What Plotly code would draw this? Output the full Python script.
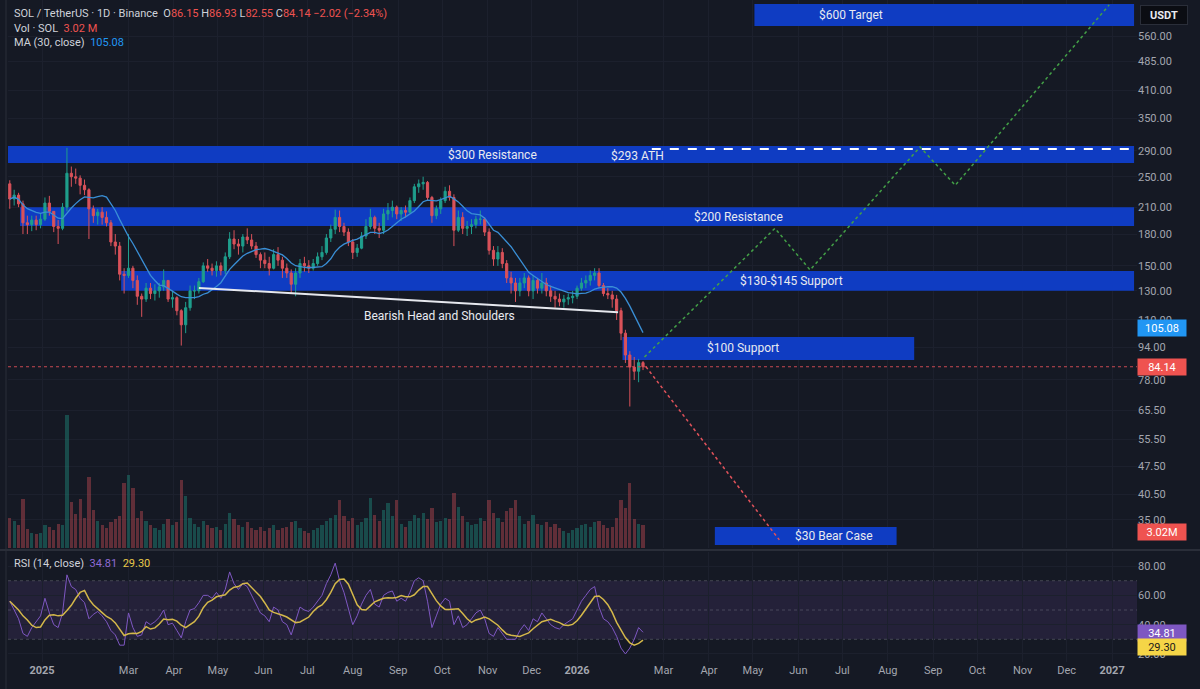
import numpy as np
import pandas as pd
import plotly.graph_objects as go

W, H = 1200, 689

# ---------------- data ----------------
candle_start = "2024-12-10"      # 3-day candles
candle_step_days = 3
first_open = 240.0
closes = [220, 225, 214, 192, 190, 195, 190, 196, 215, 205, 188, 186, 210, 255, 250, 248, 238, 232, 208, 200,
          204, 198, 192, 172, 168, 143, 142, 148, 138, 126, 124, 132, 128, 130, 133, 138, 124, 125, 116, 107,
          118, 130, 130, 137, 150, 148, 146, 150, 146, 158, 175, 170, 168, 177, 174, 168, 160, 155, 152, 148,
          160, 155, 148, 144, 135, 144, 152, 150, 148, 152, 158, 162, 176, 185, 198, 188, 182, 172, 162, 166,
          178, 188, 198, 186, 184, 202, 206, 210, 202, 206, 204, 218, 236, 240, 242, 222, 200, 208, 218, 230,
          222, 184, 198, 186, 188, 190, 196, 196, 182, 164, 156, 162, 152, 140, 136, 130, 136, 140, 130, 138,
          132, 136, 130, 126, 124, 122, 124, 125, 126, 132, 136, 138, 142, 144, 134, 128, 127, 124, 116, 102,
          90, 84, 82, 86.15, 84.14]
highs = [245, 232, 228, 218, 200, 200, 200, 202, 222, 224, 205, 195, 215, 295, 265, 262, 252, 246, 234, 212,
         208, 210, 205, 195, 180, 172, 148, 180, 150, 142, 128, 136, 136, 135, 136, 147, 138, 130, 126, 117,
         122, 134, 134, 140, 153, 156, 152, 154, 153, 162, 182, 184, 175, 180, 186, 180, 172, 162, 162, 158,
         165, 167, 158, 152, 147, 148, 156, 158, 155, 156, 162, 168, 180, 190, 207, 206, 192, 186, 175, 170,
         182, 196, 208, 200, 192, 208, 215, 218, 212, 210, 212, 222, 240, 246, 250, 244, 224, 212, 222, 236,
         238, 226, 206, 204, 194, 196, 200, 206, 198, 186, 168, 168, 166, 155, 145, 140, 140, 144, 142, 142,
         140, 144, 140, 134, 130, 128, 127, 128, 130, 134, 140, 142, 146, 148, 148, 136, 132, 130, 127, 118,
         104, 92, 89, 88, 86.93]
lows = [208, 212, 210, 180, 180, 183, 184, 186, 194, 200, 182, 170, 184, 205, 236, 240, 226, 225, 175, 192,
        190, 190, 188, 168, 160, 138, 128, 140, 132, 120, 112, 122, 124, 123, 125, 130, 122, 118, 113, 95,
        102, 116, 124, 128, 136, 145, 142, 141, 142, 143, 156, 165, 160, 162, 170, 165, 157, 148, 148, 142,
        147, 150, 140, 140, 128, 126, 140, 145, 144, 146, 150, 155, 160, 172, 180, 182, 178, 168, 156, 158,
        165, 175, 185, 180, 176, 180, 195, 198, 196, 194, 198, 203, 215, 228, 232, 218, 192, 196, 202, 215,
        218, 168, 182, 180, 178, 180, 186, 190, 178, 160, 150, 150, 148, 136, 128, 122, 126, 132, 126, 124,
        128, 128, 126, 122, 118, 119, 118, 120, 121, 124, 130, 132, 134, 138, 132, 126, 124, 118, 110, 98,
        86, 67, 78, 77, 82.55]
volumes_m = [4.0, 3.5, 3.0, 6.5, 2.5, 2.0, 1.8, 2.0, 3.0, 2.8, 2.4, 3.2, 3.0, 17.5, 6.0, 4.5, 6.5, 4.0, 9.3, 5.0,
             3.5, 3.0, 2.6, 3.4, 3.8, 4.2, 8.5, 9.6, 7.9, 4.0, 4.8, 3.6, 3.0, 2.6, 2.4, 3.2, 3.8, 3.0, 3.4, 9.0,
             6.8, 4.0, 3.2, 2.8, 3.6, 3.0, 2.6, 2.8, 2.4, 3.2, 4.6, 3.8, 3.0, 2.8, 3.4, 2.6, 2.4, 2.8, 2.2, 2.6,
             3.0, 2.4, 2.6, 2.8, 3.4, 3.6, 2.6, 2.2, 2.0, 2.4, 2.6, 3.0, 3.6, 4.0, 4.4, 6.3, 4.2, 3.6, 4.0, 3.0,
             3.4, 4.0, 6.6, 4.4, 3.6, 5.0, 5.9, 4.2, 6.3, 3.2, 2.8, 3.6, 4.4, 4.0, 4.6, 3.8, 5.2, 3.4, 3.6, 4.0,
             3.8, 7.2, 5.4, 4.2, 3.4, 3.0, 3.2, 4.0, 3.6, 6.3, 4.6, 4.0, 3.4, 4.8, 5.2, 6.3, 4.2, 3.2, 3.6, 4.4,
             3.2, 3.0, 3.4, 2.8, 3.2, 2.6, 2.2, 2.0, 2.4, 2.6, 3.0, 3.2, 2.8, 3.4, 3.6, 3.0, 2.6, 2.8, 4.0, 6.3,
             5.2, 8.5, 3.8, 3.2, 3.02]
rsi_values = [56, 50, 44, 34, 32, 38, 42, 46, 58, 48, 40, 38, 48, 74, 66, 64, 58, 55, 44, 47,
              49, 46, 42, 36, 33, 26, 26, 48, 38, 32, 33, 42, 40, 42, 45, 50, 40, 41, 36, 31,
              42, 50, 51, 55, 60, 60, 58, 62, 58, 64, 76, 68, 64, 68, 66, 60, 54, 48, 46, 42,
              52, 50, 42, 40, 33, 42, 52, 50, 49, 52, 56, 60, 68, 74, 82, 70, 62, 50, 40, 46,
              54, 60, 64, 54, 52, 60, 62, 63, 56, 58, 56, 62, 70, 72, 70, 56, 38, 46, 54, 58,
              56, 40, 46, 38, 40, 44, 48, 50, 44, 34, 32, 38, 34, 30, 30, 30, 36, 40, 36, 44,
              42, 48, 44, 40, 38, 37, 40, 42, 44, 50, 56, 60, 64, 66, 52, 44, 42, 38, 32, 24,
              20, 24, 30, 38, 34.81]
ma_window = 10        # 10 x 3-day candles = MA(30) daily
rsi_ma_window = 5

header = dict(o="86.15", h="86.93", l="82.55", c="84.14", chg="−2.02 (−2.34%)",
              vol="3.02 M", ma="105.08", rsi="34.81", rsi_ma="29.30")

# horizontal zones
zone_names = ["$600 Target", "$300 Resistance", "$200 Resistance", "$130-$145 Support", "$100 Support", "$30 Bear Case"]
zone_low = [593, 270.5, 188.5, 130, 87.5, 30.3]
zone_high = [673, 298, 210, 145.6, 99.8, 33.6]
zone_start = ["2026-05-02", "2024-12-08", "2024-12-17", "2025-02-24", "2026-02-01", "2026-04-05"]
zone_end = ["2027-01-16", "2027-01-16", "2027-01-16", "2027-01-16", "2026-08-19", "2026-08-07"]
zone_label_dates = ["2026-07-07", "2025-11-04", "2026-04-21", "2026-05-27", "2026-04-24", "2026-06-25"]

ath_price = 293
ath_line_dates = ["2026-02-21", "2027-01-16"]
ath_label_date = "2026-02-11"

neck_dates = ["2025-04-18", "2026-01-29"]
neck_prices = [132.2, 115]
neck_label_date = "2025-09-29"
neck_label_price = 112.6

bull_dates = ["2026-02-16", "2026-05-16", "2026-06-09", "2026-08-23", "2026-09-16", "2026-12-30"]
bull_prices = [89, 186, 146.5, 296.5, 238, 669]
bear_dates = ["2026-02-17", "2026-05-19"]
bear_prices = [84.14, 31.2]

last_close = 84.14
price_ticks = [35, 40.5, 47.5, 55.5, 65.5, 78, 94, 110, 130, 150, 180, 210, 250, 290, 350, 410, 485, 560]
rsi_ticks = [20, 40, 60, 80]
month_ticks = ["2025-01-01", "2025-03-01", "2025-04-01", "2025-05-01", "2025-06-01", "2025-07-01", "2025-08-01",
               "2025-09-01", "2025-10-01", "2025-11-01", "2025-12-01", "2026-01-01", "2026-03-01", "2026-04-01",
               "2026-05-01", "2026-06-01", "2026-07-01", "2026-08-01", "2026-09-01", "2026-10-01", "2026-11-01",
               "2026-12-01", "2027-01-01"]
month_labels = ["<b>2025</b>", "Mar", "Apr", "May", "Jun", "Jul", "Aug", "Sep", "Oct", "Nov", "Dec",
                "<b>2026</b>", "Mar", "Apr", "May", "Jun", "Jul", "Aug", "Sep", "Oct", "Nov", "Dec", "<b>2027</b>"]

# ---------------- styling ----------------
BG = "#151924"
GRID = "#1c202d"
UP = "#1f9e8c"
DOWN = "#d9525a"
ZONE = "#0f3cc2"
TXT = "#cfd2da"
AX = "#a3a6af"
FONT = "Roboto"

X_RANGE = ["2024-12-08 19:00", "2027-01-18"]
XD = [8 / W, 1137 / W]
PRICE_DOM = [1 - 548 / H, 1.0]
RSI_DOM = [1 - 662 / H, 1 - 552 / H]
PRICE_RANGE = [np.log10(29.78), np.log10(688.3)]
RSI_RANGE = [14.5, 89.6]
VOL_RANGE = [0, 72]


def px(x):
    return x / W


def py(y):
    return 1 - y / H


dates = pd.date_range(candle_start, periods=len(closes), freq=f"{candle_step_days}D")
opens = [first_open] + closes[:-1]
ma = pd.Series(closes).rolling(ma_window, min_periods=1).mean()
rsi_ma = pd.Series(rsi_values).rolling(rsi_ma_window, min_periods=1).mean()
vol_colors = ["rgba(31,158,140,0.38)" if c >= o else "rgba(217,82,90,0.38)" for o, c in zip(opens, closes)]

fig = go.Figure()

fig.add_trace(go.Bar(x=dates, y=volumes_m, marker=dict(color=vol_colors, line=dict(width=0)),
                     width=2.2 * 86400000, xaxis="x", yaxis="y3"))
fig.add_trace(go.Candlestick(x=dates, open=opens, high=highs, low=lows, close=closes,
                             increasing=dict(line=dict(color=UP, width=1), fillcolor=UP),
                             decreasing=dict(line=dict(color=DOWN, width=1), fillcolor=DOWN),
                             whiskerwidth=0, xaxis="x", yaxis="y"))
fig.add_trace(go.Scatter(x=dates, y=ma, mode="lines", line=dict(color="#3a8fd6", width=1.3),
                         xaxis="x", yaxis="y"))
# last price dotted line
fig.add_trace(go.Scatter(x=X_RANGE, y=[last_close, last_close], mode="lines",
                         line=dict(color="#c84a52", width=1, dash="dot"), xaxis="x", yaxis="y"))
# neckline
fig.add_trace(go.Scatter(x=neck_dates, y=neck_prices, mode="lines", line=dict(color="#e6e8ee", width=2),
                         xaxis="x", yaxis="y"))
# ATH dashed
fig.add_trace(go.Scatter(x=ath_line_dates, y=[ath_price, ath_price], mode="lines",
                         line=dict(color="#ffffff", width=2, dash="dash"), xaxis="x", yaxis="y"))
# projections
fig.add_trace(go.Scatter(x=bull_dates, y=bull_prices, mode="lines",
                         line=dict(color="#43a047", width=1.5, dash="dot"), xaxis="x", yaxis="y"))
fig.add_trace(go.Scatter(x=bear_dates, y=bear_prices, mode="lines",
                         line=dict(color="#e0525a", width=1.5, dash="dot"), xaxis="x", yaxis="y"))
# RSI
fig.add_trace(go.Scatter(x=dates, y=rsi_values, mode="lines", line=dict(color="#7e57c2", width=1),
                         xaxis="x2", yaxis="y2"))
fig.add_trace(go.Scatter(x=dates, y=rsi_ma, mode="lines", line=dict(color="#d4b84a", width=1.5),
                         xaxis="x2", yaxis="y2"))

shapes = []
for lo, hi, s, e in zip(zone_low, zone_high, zone_start, zone_end):
    shapes.append(dict(type="rect", xref="x", yref="y", x0=s, x1=e, y0=lo, y1=hi,
                       fillcolor=ZONE, line=dict(width=0), layer="between"))
# RSI band
shapes.append(dict(type="rect", xref="x2", yref="y2", x0=X_RANGE[0], x1=X_RANGE[1], y0=30, y1=70,
                   fillcolor="rgba(126,87,194,0.14)", line=dict(width=0), layer="below"))
for lvl in [70, 50, 30]:
    shapes.append(dict(type="line", xref="x2", yref="y2", x0=X_RANGE[0], x1=X_RANGE[1], y0=lvl, y1=lvl,
                       line=dict(color="rgba(120,123,134,0.45)", width=1, dash="dot"), layer="below"))
# pane separator & left border
shapes.append(dict(type="line", xref="paper", yref="paper", x0=0, x1=1, y0=py(550), y1=py(550),
                   line=dict(color="#2a2e39", width=2)))
shapes.append(dict(type="line", xref="paper", yref="paper", x0=px(6), x1=px(6), y0=0, y1=1,
                   line=dict(color="#2a2e39", width=1)))

ann = []
for name, lo, hi, d in zip(zone_names, zone_low, zone_high, zone_label_dates):
    ann.append(dict(x=d, y=np.log10(np.sqrt(lo * hi)), xref="x", yref="y", text=name, showarrow=False,
                    font=dict(color="#e8eaf0", size=12, family=FONT)))
ann.append(dict(x=ath_label_date, y=np.log10(281.5), xref="x", yref="y", text="$293 ATH", showarrow=False,
                font=dict(color="#e8eaf0", size=12, family=FONT)))
ann.append(dict(x=neck_label_date, y=np.log10(neck_label_price), xref="x", yref="y",
                text="Bearish Head and Shoulders", showarrow=False,
                font=dict(color="#e8eaf0", size=12, family=FONT)))

red = "#ef5350"
line1 = (f"SOL / TetherUS · 1D · Binance  O<span style='color:{red}'>{header['o']}</span> "
         f"H<span style='color:{red}'>{header['h']}</span> L<span style='color:{red}'>{header['l']}</span> "
         f"C<span style='color:{red}'>{header['c']}</span> <span style='color:{red}'>{header['chg']}</span>")
ann.append(dict(x=px(12), y=py(14), xref="paper", yref="paper", xanchor="left", yanchor="middle",
                text=line1, showarrow=False, font=dict(color=TXT, size=11, family=FONT)))
ann.append(dict(x=px(12), y=py(28), xref="paper", yref="paper", xanchor="left", yanchor="middle",
                text=f"Vol · SOL  <span style='color:{red}'>{header['vol']}</span>", showarrow=False,
                font=dict(color=TXT, size=11, family=FONT)))
ann.append(dict(x=px(12), y=py(42), xref="paper", yref="paper", xanchor="left", yanchor="middle",
                text=f"MA (30, close)  <span style='color:#2196f3'>{header['ma']}</span>", showarrow=False,
                font=dict(color=TXT, size=11, family=FONT)))
ann.append(dict(x=px(12), y=py(563), xref="paper", yref="paper", xanchor="left", yanchor="middle",
                text=(f"RSI (14, close)  <span style='color:#8e6bd6'>{header['rsi']}</span>  "
                      f"<span style='color:#e8c94a'>{header['rsi_ma']}</span>"), showarrow=False,
                font=dict(color=TXT, size=11, family=FONT)))


def axis_box(text, ypix, bg, fg="#ffffff"):
    return dict(x=px(1137), y=py(ypix), xref="paper", yref="paper", xanchor="left", yanchor="middle",
                text=text, showarrow=False, bgcolor=bg, width=46, height=14, borderpad=1,
                font=dict(color=fg, size=11, family=FONT))


ann.append(axis_box(header["ma"], 328, "#2196f3"))
ann.append(axis_box(header["c"], 367, "#ef5350"))
ann.append(axis_box(header["vol"].replace(" ", ""), 532, "#ef5350"))
ann.append(axis_box(header["rsi"], 633, "#7e57c2"))
ann.append(axis_box(header["rsi_ma"], 647, "#f5d547", "#1a1a1a"))
ann.append(dict(x=px(1140), y=py(15), xref="paper", yref="paper", xanchor="left", yanchor="middle",
                text="<b>USDT</b>", showarrow=False, bgcolor="#0b0d13", bordercolor="#2a2e39", borderwidth=1,
                width=44, height=16, font=dict(color="#e8eaf0", size=11, family=FONT)))

fig.update_layout(
    width=W, height=H, margin=dict(l=0, r=0, t=0, b=0),
    paper_bgcolor=BG, plot_bgcolor=BG, showlegend=False, hovermode=False,
    font=dict(family=FONT, color=AX, size=11),
    shapes=shapes, annotations=ann, bargap=0,
    xaxis=dict(domain=XD, range=X_RANGE, type="date", anchor="y", showticklabels=False,
               tickvals=month_ticks, showgrid=True, gridcolor=GRID, zeroline=False,
               rangeslider=dict(visible=False), showline=False),
    xaxis2=dict(domain=XD, range=X_RANGE, type="date", anchor="y2", matches="x",
                tickvals=month_ticks, ticktext=month_labels, showgrid=True, gridcolor=GRID,
                tickfont=dict(color=AX, size=11, family=FONT), ticks="", zeroline=False, showline=False),
    yaxis=dict(domain=PRICE_DOM, type="log", range=PRICE_RANGE, side="right", anchor="x",
               tickvals=price_ticks, ticktext=[f"{v:.2f}" for v in price_ticks],
               showgrid=True, gridcolor=GRID, zeroline=False, tickfont=dict(color=AX, size=11, family=FONT),
               ticks="", showline=False),
    yaxis3=dict(domain=PRICE_DOM, range=VOL_RANGE, overlaying="y", anchor="x", visible=False),
    yaxis2=dict(domain=RSI_DOM, range=RSI_RANGE, side="right", anchor="x2",
                tickvals=rsi_ticks, ticktext=[f"{v:.2f}" for v in rsi_ticks],
                showgrid=True, gridcolor=GRID, zeroline=False, tickfont=dict(color=AX, size=11, family=FONT),
                ticks="", showline=False),
)

fig.write_html("out.html")
